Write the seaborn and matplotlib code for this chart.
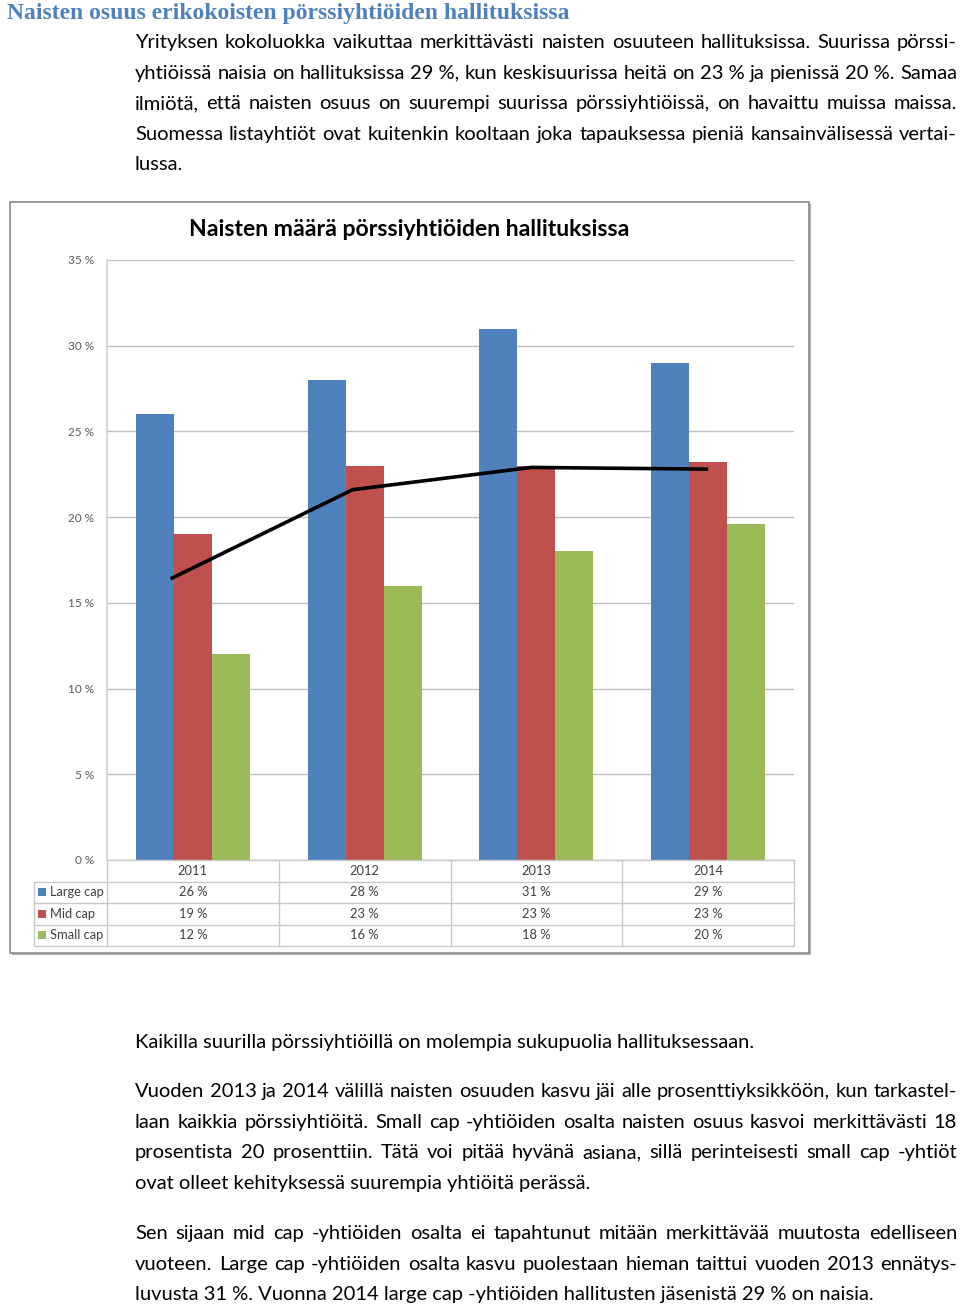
import matplotlib
matplotlib.use("Agg")
import matplotlib.pyplot as plt
import seaborn as sns
import pandas as pd
import numpy as np
from matplotlib.patches import Rectangle
from matplotlib.lines import Line2D

# ---------------- data ----------------
years = ["2011", "2012", "2013", "2014"]
series = ["Large cap", "Mid cap", "Small cap"]
large_cap = [26, 28, 31, 29]
mid_cap = [19, 23, 23, 23.2]
small_cap = [12, 16, 18, 19.6]
trend_pos = [-0.13, 0.93, 1.97, 3.0]
trend_val = [16.4, 21.6, 22.9, 22.8]
colors = ["#4F81BD", "#C0504D", "#9BBB59"]
yticks = [0, 5, 10, 15, 20, 25, 30, 35]

heading = "Naisten osuus erikokoisten pörssiyhtiöiden hallituksissa"
chart_title = "Naisten määrä pörssiyhtiöiden hallituksissa"
para1 = [
    "Yrityksen kokoluokka vaikuttaa merkittävästi naisten osuuteen hallituksissa. Suurissa pörssi-",
    "yhtiöissä naisia on hallituksissa 29\u00a0%, kun keskisuurissa heitä on 23\u00a0% ja pienissä 20\u00a0%. Samaa",
    "ilmiötä, että naisten osuus on suurempi suurissa pörssiyhtiöissä, on havaittu muissa maissa.",
    "Suomessa listayhtiöt ovat kuitenkin kooltaan joka tapauksessa pieniä kansainvälisessä vertai-",
    "lussa.",
]
para2 = ["Kaikilla suurilla pörssiyhtiöillä on molempia sukupuolia hallituksessaan."]
para3 = [
    "Vuoden 2013 ja 2014 välillä naisten osuuden kasvu jäi alle prosenttiyksikköön, kun tarkastel-",
    "laan kaikkia pörssiyhtiöitä. Small cap -yhtiöiden osalta naisten osuus kasvoi merkittävästi 18",
    "prosentista 20 prosenttiin. Tätä voi pitää hyvänä asiana, sillä perinteisesti small cap -yhtiöt",
    "ovat olleet kehityksessä suurempia yhtiöitä perässä.",
]
para4 = [
    "Sen sijaan mid cap -yhtiöiden osalta ei tapahtunut mitään merkittävää muutosta edelliseen",
    "vuoteen. Large cap -yhtiöiden osalta kasvu puolestaan hieman taittui vuoden 2013 ennätys-",
    "luvusta 31\u00a0%. Vuonna 2014 large cap -yhtiöiden hallitusten jäsenistä 29\u00a0% on naisia.",
]

# ---------------- figure ----------------
sns.set_theme(style="white")
W, H = 960, 1309
fig = plt.figure(figsize=(W / 100, H / 100), dpi=100)
fig.patch.set_facecolor("white")
body_font = ["Lato", "DejaVu Sans"]

def fx(px):
    return px / W

def fy(py):
    return 1 - py / H

renderer = fig.canvas.get_renderer()
BASE_OFF = 6  # baseline offset below the visual line centre

def text_line(s, x0, x1, y, justify, size=14.5, color="black"):
    yb = y + BASE_OFF
    if not justify:
        fig.text(fx(x0), fy(yb), s, family=body_font, fontsize=size,
                 color=color, va="baseline", ha="left")
        return
    words = s.split(" ")
    objs = []
    widths = []
    for w in words:
        t = fig.text(0, 0, w, family=body_font, fontsize=size,
                     color=color, va="baseline", ha="left")
        bb = t.get_window_extent(renderer)
        objs.append(t)
        widths.append(bb.width)
    gap = (x1 - x0 - sum(widths)) / (len(words) - 1)
    x = x0
    for t, wd in zip(objs, widths):
        t.set_position((fx(x), fy(yb)))
        x += wd + gap

def paragraph(lines, y0, step=30.6):
    for i, s in enumerate(lines):
        last = i == len(lines) - 1
        text_line(s, 135, 957, y0 + i * step, not last)

fig.text(fx(7), fy(13), heading, family=["Liberation Serif", "DejaVu Serif"],
         fontweight="bold", fontsize=17, color="#4F81BD", va="center", ha="left")
paragraph(para1, 42)
paragraph(para2, 1042)
paragraph(para3, 1091)
paragraph(para4, 1233)

# chart frame with shadow (behind the axes)
fig.patches.append(Rectangle((fx(12), fy(955)), fx(799), 751 / H, transform=fig.transFigure,
                             facecolor="#b0b0b0", edgecolor="none", zorder=-2))
fig.patches.append(Rectangle((fx(10), fy(953)), fx(799), 751 / H, transform=fig.transFigure,
                             facecolor="white", edgecolor="#8c8c8c", linewidth=1.2, zorder=-1))

fig.text(fx(409), fy(229), chart_title, family=body_font, fontweight="bold",
         fontsize=16.6, color="black", va="center", ha="center")

# ---------------- bar chart ----------------
ax_l, ax_r, ax_t, ax_b = 107, 794, 260, 860
ax = fig.add_axes([fx(ax_l), fy(ax_b), fx(ax_r - ax_l), (ax_b - ax_t) / H])
ax.set_facecolor("none")
df = pd.DataFrame({
    "year": np.repeat(years, 3),
    "series": series * len(years),
    "value": [v for trio in zip(large_cap, mid_cap, small_cap) for v in trio],
})
sns.barplot(data=df, x="year", y="value", hue="series", hue_order=series,
            palette=colors, width=0.664, saturation=1, ax=ax, legend=False,
            zorder=3, linewidth=0)
ax.plot(trend_pos, trend_val, color="black", linewidth=2.6, zorder=5,
        solid_capstyle="butt")
ax.set_ylim(0, 35)
ax.set_xlim(-0.5, 3.5)
ax.set_yticks(yticks)
ax.set_yticklabels([f"{v} %" for v in yticks], family=body_font, fontsize=8.5,
                   color="#595959")
ax.tick_params(axis="y", length=0, pad=9)
ax.set_xticks([])
ax.set_xlabel("")
ax.set_ylabel("")
ax.yaxis.grid(True, color="#bfbfbf", linewidth=1)
ax.set_axisbelow(True)
for side in ["top", "right", "bottom"]:
    ax.spines[side].set_visible(False)
ax.spines["left"].set_color("#d0d0d0")
ax.spines["left"].set_linewidth(1.2)

# ---------------- data table ----------------
grid_c = "#c8c8c8"
col_edges = [ax_l + i * (ax_r - ax_l) / 4 for i in range(5)]
row_edges = [860, 881.5, 903, 924.5, 946]
lab_l = 34

def hline(x0, x1, y):
    fig.lines.append(Line2D([fx(x0), fx(x1)], [fy(y), fy(y)], transform=fig.transFigure,
                            color=grid_c, linewidth=1))

def vline(x, y0, y1):
    fig.lines.append(Line2D([fx(x), fx(x)], [fy(y0), fy(y1)], transform=fig.transFigure,
                            color=grid_c, linewidth=1))

hline(ax_l, ax_r, row_edges[0])
for y in row_edges[1:]:
    hline(lab_l, ax_r, y)
for x in col_edges:
    vline(x, row_edges[0], row_edges[-1])
vline(lab_l, row_edges[1], row_edges[-1])

table_vals = [large_cap, mid_cap, small_cap]
for j, yr in enumerate(years):
    cx = (col_edges[j] + col_edges[j + 1]) / 2
    fig.text(fx(cx), fy((row_edges[0] + row_edges[1]) / 2), yr, family=body_font,
             fontsize=9.3, color="#404040", ha="center", va="center")
    for i in range(3):
        cy = (row_edges[i + 1] + row_edges[i + 2]) / 2
        fig.text(fx(cx), fy(cy), f"{round(table_vals[i][j])} %", family=body_font,
                 fontsize=9.3, color="#404040", ha="center", va="center")
for i, name in enumerate(series):
    cy = (row_edges[i + 1] + row_edges[i + 2]) / 2
    fig.patches.append(Rectangle((fx(38), fy(cy + 4)), fx(8), 8 / H,
                                 transform=fig.transFigure, facecolor=colors[i],
                                 edgecolor="none"))
    fig.text(fx(50), fy(cy), name, family=body_font, fontsize=9.3, color="#404040",
             ha="left", va="center")

fig.savefig("out.png", dpi=100, facecolor="white")
